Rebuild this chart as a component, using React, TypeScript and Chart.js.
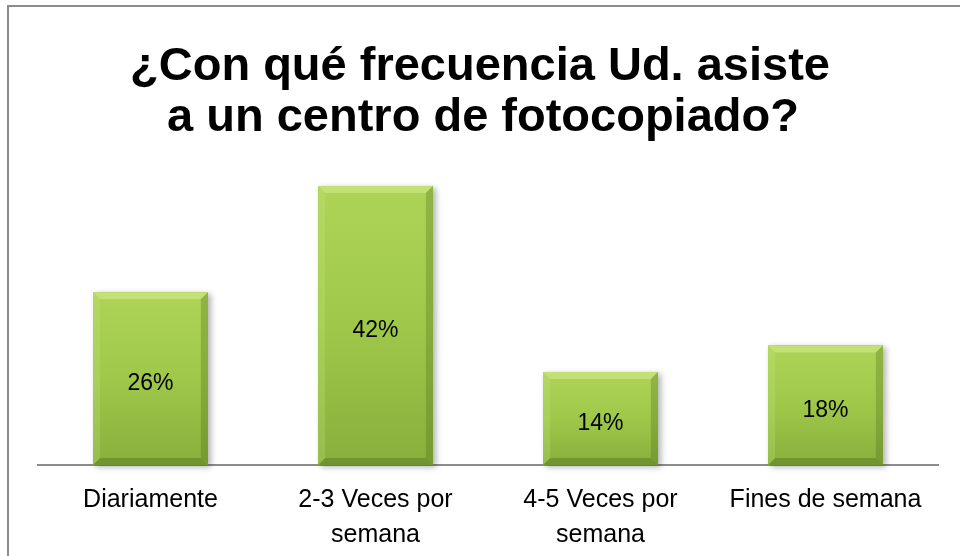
import React, { useEffect, useRef } from "react";
import { Chart, registerables } from "chart.js";

Chart.register(...registerables);

const titleLines = ["¿Con qué frecuencia Ud. asiste", "a un centro de fotocopiado?"];
const categories: (string | string[])[] = [
  "Diariamente",
  ["2-3 Veces por", "semana"],
  ["4-5 Veces por", "semana"],
  "Fines de semana",
];
const values = [26, 42, 14, 18];
const valueLabels = ["26%", "42%", "14%", "18%"];
const yMax = 45;

const decorPlugin = {
  id: "decor",
  beforeDraw(chart: any) {
    const ctx = chart.ctx;
    ctx.save();
    ctx.fillStyle = "#ffffff";
    ctx.fillRect(0, 0, chart.width, chart.height);
    ctx.strokeStyle = "#8c8c8c";
    ctx.lineWidth = 2;
    ctx.beginPath();
    ctx.moveTo(8, chart.height + 2);
    ctx.lineTo(8, 6);
    ctx.lineTo(chart.width + 2, 6);
    ctx.stroke();
    ctx.fillStyle = "#000000";
    ctx.font = "bold 47px 'Liberation Sans', Arial, sans-serif";
    ctx.textAlign = "center";
    ctx.textBaseline = "alphabetic";
    ctx.fillText(titleLines[0], 480, 80);
    ctx.fillText(titleLines[1], 483, 131);
    ctx.restore();
  },
  afterDatasetsDraw(chart: any) {
    const ctx = chart.ctx;
    const meta = chart.getDatasetMeta(0);
    meta.data.forEach((bar: any, i: number) => {
      const { x, y, base, width } = bar.getProps(["x", "y", "base", "width"], true);
      const l = x - width / 2;
      const r = x + width / 2;
      const t = y;
      const b = base;
      const h = b - t;
      const bv = 7;
      ctx.save();
      ctx.shadowColor = "rgba(0,0,0,0.3)";
      ctx.shadowBlur = 6;
      ctx.shadowOffsetX = 3;
      ctx.shadowOffsetY = 2;
      const g = ctx.createLinearGradient(0, t, 0, b);
      g.addColorStop(0, "#aed456");
      g.addColorStop(0.5, "#9fc84a");
      g.addColorStop(1, "#88af3c");
      ctx.fillStyle = g;
      ctx.fillRect(l, t, width, h);
      ctx.shadowColor = "transparent";
      ctx.fillStyle = "rgba(215,238,150,0.5)";
      ctx.beginPath();
      ctx.moveTo(l, t);
      ctx.lineTo(r, t);
      ctx.lineTo(r - bv, t + bv);
      ctx.lineTo(l + bv, t + bv);
      ctx.closePath();
      ctx.fill();
      ctx.fillStyle = "rgba(200,230,130,0.25)";
      ctx.beginPath();
      ctx.moveTo(l, t);
      ctx.lineTo(l + bv, t + bv);
      ctx.lineTo(l + bv, b - bv);
      ctx.lineTo(l, b);
      ctx.closePath();
      ctx.fill();
      ctx.fillStyle = "rgba(70,100,20,0.28)";
      ctx.beginPath();
      ctx.moveTo(r, t);
      ctx.lineTo(r - bv, t + bv);
      ctx.lineTo(r - bv, b - bv);
      ctx.lineTo(r, b);
      ctx.closePath();
      ctx.fill();
      ctx.fillStyle = "rgba(60,90,15,0.3)";
      ctx.beginPath();
      ctx.moveTo(l, b);
      ctx.lineTo(l + bv, b - bv);
      ctx.lineTo(r - bv, b - bv);
      ctx.lineTo(r, b);
      ctx.closePath();
      ctx.fill();
      ctx.fillStyle = "#000000";
      ctx.font = "23px 'Liberation Sans', Arial, sans-serif";
      ctx.textAlign = "center";
      ctx.textBaseline = "middle";
      ctx.fillText(valueLabels[i], x, (t + b) / 2 + 5);
      ctx.restore();
    });
  },
};

export default function App() {
  const ref = useRef<HTMLCanvasElement | null>(null);
  useEffect(() => {
    document.body.style.margin = "0";
    const canvas = ref.current!;
    const chart = new Chart(canvas, {
      type: "bar",
      data: {
        labels: categories,
        datasets: [
          {
            data: values,
            backgroundColor: "#9fc84a",
            borderWidth: 0,
            categoryPercentage: 1,
            barPercentage: 0.51,
          },
        ],
      },
      options: {
        responsive: false,
        animation: false,
        layout: { padding: { left: 38, right: 22, top: 166, bottom: 0 } },
        plugins: {
          legend: { display: false },
          title: { display: false },
          tooltip: { enabled: false },
        },
        scales: {
          y: { display: false, min: 0, max: yMax },
          x: {
            grid: { display: false, drawTicks: false, tickLength: 0 },
            border: { display: true, color: "#8c8c8c", width: 2 },
            ticks: {
              color: "#000000",
              font: { family: "'Liberation Sans', Arial, sans-serif", size: 25, lineHeight: 1.4 },
              padding: 18,
              maxRotation: 0,
              autoSkip: false,
            },
            afterFit(scale: any) {
              scale.height = 91;
            },
          },
        },
      },
      plugins: [decorPlugin],
    });
    return () => chart.destroy();
  }, []);
  return (
    <div style={{ width: 960, height: 556 }}>
      <canvas ref={ref} width={960} height={556} />
    </div>
  );
}
